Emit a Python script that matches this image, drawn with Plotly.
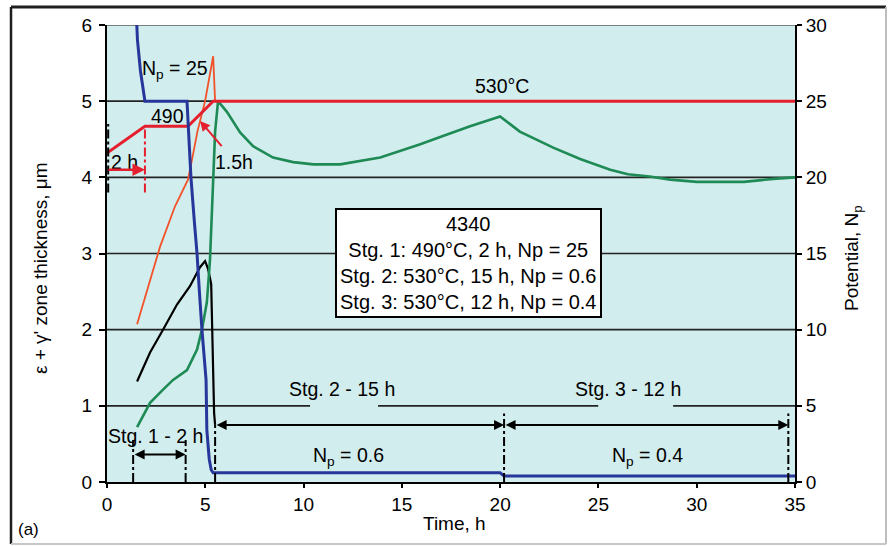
import plotly.graph_objects as go

# ---- data -------------------------------------------------------------
# Nitriding potential Np (right axis)
t_np = [1.45, 1.55, 1.7, 1.93, 4.07, 4.15, 4.27, 4.45, 4.58, 4.7, 4.83, 5.04, 5.08, 5.2, 5.3, 5.4, 20.0, 20.2, 35.0]
np_val = [32, 29, 27, 25, 25, 23, 20, 17, 15, 12.5, 10, 6.7, 3.4, 1.5, 0.8, 0.6, 0.6, 0.4, 0.4]

# Temperature profile (schematic, left-axis units)
t_temp = [0.0, 1.93, 4.12, 5.4, 35.0]
temp_val = [4.32, 4.67, 4.67, 5.0, 5.0]

# Zone thickness curves (µm)
t_orange = [1.53, 2.19, 2.7, 3.46, 4.12, 4.3, 4.6, 4.99, 5.2, 5.4, 5.5]
v_orange = [2.07, 2.66, 3.09, 3.62, 3.97, 4.2, 4.6, 5.0, 5.3, 5.59, 5.0]

t_black = [1.53, 2.19, 2.85, 3.56, 4.22, 4.73, 4.99, 5.14, 5.3, 5.38, 5.45, 5.5]
v_black = [1.32, 1.7, 2.0, 2.33, 2.57, 2.82, 2.9, 2.8, 2.6, 1.5, 0.9, 0.75]

t_green = [1.53, 2.19, 2.8, 3.36, 4.07, 4.58, 4.83, 5.08, 5.24, 5.4, 5.5, 5.65, 6.1, 6.77, 7.43,
           8.45, 9.47, 10.5, 11.86, 13.9, 15.9, 16.95, 18.47, 20.0, 21.0, 22.7, 24.07,
           25.6, 26.5, 27.6, 28.65, 30.0, 32.4, 33.9, 35.0]
v_green = [0.72, 1.04, 1.2, 1.34, 1.47, 1.74, 2.0, 2.36, 2.92, 3.97, 4.6, 5.0, 4.86, 4.59, 4.41,
           4.26, 4.2, 4.17, 4.17, 4.26, 4.43, 4.53, 4.67, 4.8, 4.6, 4.39, 4.24,
           4.1, 4.04, 4.01, 3.97, 3.94, 3.94, 3.98, 4.0]

x_ticks = [0, 5, 10, 15, 20, 25, 30, 35]
y_ticks = [0, 1, 2, 3, 4, 5, 6]
y2_ticks = [0, 5, 10, 15, 20, 25, 30]

# stage boundaries used for dimension lines
stage1_edges = [1.33, 4.0]
stage23_edges = [5.5, 20.2, 34.66]

FONT = "Liberation Sans, Arial, sans-serif"
BLUE = "#26369a"
RED = "#e5202e"
ORANGE = "#f2522a"
GREEN = "#1e8a55"

fig = go.Figure()

fig.add_trace(go.Scatter(x=t_orange, y=v_orange, mode="lines",
                         line=dict(color=ORANGE, width=1.8)))
fig.add_trace(go.Scatter(x=t_black, y=v_black, mode="lines",
                         line=dict(color="black", width=2.2)))
fig.add_trace(go.Scatter(x=t_green, y=v_green, mode="lines",
                         line=dict(color=GREEN, width=2.6)))
fig.add_trace(go.Scatter(x=t_temp, y=temp_val, mode="lines",
                         line=dict(color=RED, width=3)))
fig.add_trace(go.Scatter(x=t_np, y=np_val, mode="lines", yaxis="y2",
                         line=dict(color=BLUE, width=3)))

shapes = []
GRID = "rgb(35,35,35)"
# horizontal grid lines
for gy in [2, 3, 4, 5]:
    shapes.append(dict(type="line", xref="x", yref="y", x0=0, x1=35, y0=gy, y1=gy,
                       line=dict(color=GRID, width=1.6), layer="below"))
shapes.append(dict(type="line", xref="x", yref="y", x0=0, x1=35, y0=6, y1=6,
                   line=dict(color="rgb(90,90,90)", width=1.6), layer="below"))
# level 1 line, broken around the stage labels
for a, b in [(0, 10.33), (13.79, 24.99), (28.8, 35)]:
    shapes.append(dict(type="line", xref="x", yref="y", x0=a, x1=b, y0=1, y1=1,
                       line=dict(color=GRID, width=1.6), layer="below"))

# dash-dot dimension lines
def dd(x, y0, y1, color="black"):
    shapes.append(dict(type="line", xref="x", yref="y", x0=x, x1=x, y0=y0, y1=y1,
                       line=dict(color=color, width=2, dash="dashdot")))

dd(0.06, 3.8, 4.7)
dd(1.93, 3.8, 4.67, RED)
for e in stage1_edges:
    dd(e, 0, 0.55)
dd(stage23_edges[0], 0, 0.75)
dd(stage23_edges[1], 0, 0.9)
dd(stage23_edges[2], 0, 0.9)

# outer frame (pixel positions converted to paper units)
L, R, T, B = 107, 95, 25, 64
W, H = 890, 546
pw, ph = W - L - R, H - T - B
def px(x):
    return (x - L) / pw
def py(y):
    return (H - B - y) / ph
fx0, fx1, fy0, fy1 = px(11), px(886), py(7), py(544)
shapes += [
    dict(type="line", xref="paper", yref="paper", x0=fx0, x1=fx1, y0=fy0, y1=fy0,
         line=dict(color="rgb(30,30,30)", width=3)),
    dict(type="line", xref="paper", yref="paper", x0=fx0, x1=fx0, y0=fy0, y1=fy1,
         line=dict(color="rgb(30,30,30)", width=2.5)),
    dict(type="line", xref="paper", yref="paper", x0=fx1, x1=fx1, y0=fy0, y1=fy1,
         line=dict(color="rgb(190,190,190)", width=2)),
    dict(type="line", xref="paper", yref="paper", x0=fx0, x1=fx1, y0=fy1, y1=fy1,
         line=dict(color="rgb(200,200,200)", width=2)),
]

ann = []
def txt(x, y, s, size=19.5, **kw):
    d = dict(x=x, y=y, xref="x", yref="y", text=s, showarrow=False,
             xanchor="center", yanchor="middle",
             font=dict(family=FONT, size=size, color="black"))
    d.update(kw)
    ann.append(d)

def arrow(x, y, ax, ay, color="black", both=False, width=2):
    ann.append(dict(x=x, y=y, ax=ax, ay=ay, xref="x", yref="y", axref="x", ayref="y",
                    text="", showarrow=True, arrowhead=2, arrowsize=1, arrowwidth=width,
                    arrowcolor=color, arrowside="end+start" if both else "end",
                    standoff=0, startstandoff=0))

txt(3.46, 5.42, "N<sub>p</sub> = 25")
txt(3.1, 4.8, "490")
txt(0.9, 4.2, "2 h")
txt(6.45, 4.2, "1.5h")
txt(20.1, 5.2, "530°C")
txt(18.4, 2.88, "4340<br>Stg. 1: 490°C, 2 h, Np = 25<br>Stg. 2: 530°C, 15 h, Np = 0.6<br>Stg. 3: 530°C, 12 h, Np = 0.4",
    size=20, bgcolor="white", bordercolor="black", borderwidth=2, borderpad=3, align="center")
txt(2.45, 0.6, "Stg. 1 - 2 h")
txt(11.96, 1.22, "Stg. 2 - 15 h")
txt(26.5, 1.22, "Stg. 3 - 12 h")
txt(12.3, 0.33, "N<sub>p</sub> = 0.6")
txt(27.5, 0.33, "N<sub>p</sub> = 0.4")

arrow(1.93, 4.1, 0.0, 4.1, color=RED, width=2.5)
arrow(4.73, 4.74, 5.9, 4.39, color=RED, width=2)
arrow(stage1_edges[1], 0.36, stage1_edges[0], 0.36, both=True)
arrow(stage23_edges[1], 0.75, stage23_edges[0], 0.75, both=True)
arrow(stage23_edges[2], 0.75, stage23_edges[1], 0.75, both=True)

# axis titles and panel label
def ptxt(x, y, s, size=19, angle=0):
    ann.append(dict(x=px(x), y=py(y), xref="paper", yref="paper", text=s, showarrow=False,
                    xanchor="center", yanchor="middle", textangle=angle,
                    font=dict(family=FONT, size=size, color="black")))

ptxt(40, 268, "ε + γ' zone thickness, μm", angle=-90)
ptxt(853, 258, "Potential, N<sub>p</sub>", angle=-90)
ptxt(454, 523, "Time, h")
ptxt(28, 529, "(a)", size=17)

axis_common = dict(showgrid=False, zeroline=False, showline=True, linecolor="black",
                   linewidth=2, ticks="outside", tickwidth=1.5, tickcolor="black",
                   tickfont=dict(family=FONT, size=19, color="black"))

fig.update_layout(
    width=W, height=H,
    margin=dict(l=L, r=R, t=T, b=B),
    paper_bgcolor="white",
    plot_bgcolor="#d2eded",
    showlegend=False,
    xaxis=dict(range=[0, 35], tickvals=x_ticks, ticklen=4, **axis_common),
    yaxis=dict(range=[0, 6], tickvals=y_ticks, ticklen=6, ticklabelstandoff=3,
               **axis_common),
    yaxis2=dict(range=[0, 30], tickvals=y2_ticks, overlaying="y", side="right",
                ticklen=5, **axis_common),
    shapes=shapes,
    annotations=ann,
)

fig.write_html("out.html")
